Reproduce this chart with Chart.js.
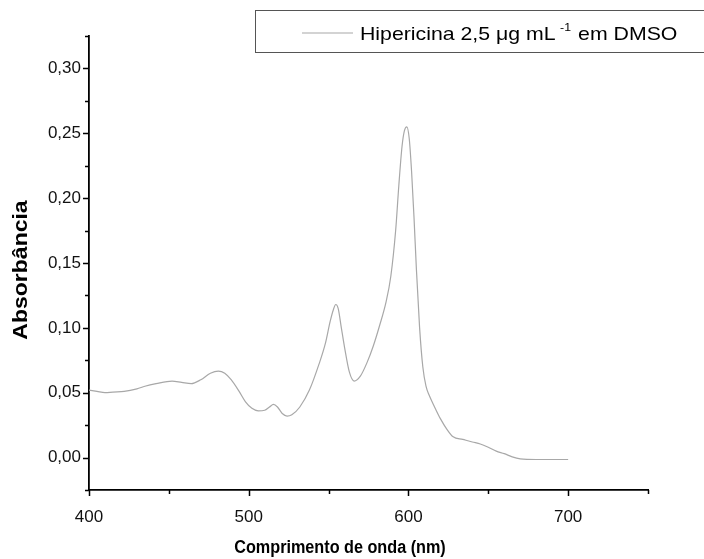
<!DOCTYPE html>
<html>
<head>
<meta charset="utf-8">
<script src="https://cdn.jsdelivr.net/npm/chart.js@4/dist/chart.umd.min.js"></script>
<style>
html,body{margin:0;padding:0;background:#fff;}
#wrap{position:relative;width:704px;height:559px;}
</style>
</head>
<body>
<div id="wrap"><canvas id="c" width="704" height="559"></canvas></div>
<script>
const wavelengths = [400, 405, 410, 415, 422, 430, 435, 442, 452, 458, 464, 470, 476, 481, 485, 489, 494, 498, 502, 506, 510, 513, 515.5, 518, 521, 524, 527, 532, 538, 544, 548, 551, 553, 554.5, 556, 558, 560, 563, 566, 570, 574, 578, 582, 586, 589, 592, 594, 596, 597.5, 599, 600.5, 602, 603.5, 605, 607, 609, 611, 613, 616, 620, 624, 628, 634, 640, 645, 650, 655, 660, 665, 670, 680, 690, 700];
const absorbance = [0.052, 0.051, 0.050, 0.0505, 0.051, 0.053, 0.055, 0.057, 0.059, 0.058, 0.057, 0.060, 0.065, 0.0667, 0.065, 0.060, 0.051, 0.043, 0.038, 0.036, 0.0365, 0.039, 0.041, 0.039, 0.034, 0.032, 0.033, 0.039, 0.052, 0.072, 0.088, 0.105, 0.114, 0.118, 0.115, 0.100, 0.085, 0.066, 0.059, 0.063, 0.073, 0.086, 0.102, 0.120, 0.140, 0.175, 0.210, 0.240, 0.252, 0.255, 0.246, 0.220, 0.185, 0.145, 0.100, 0.070, 0.055, 0.048, 0.040, 0.030, 0.022, 0.016, 0.014, 0.012, 0.0105, 0.008, 0.005, 0.003, 0.0005, -0.001, -0.0015, -0.0015, -0.0015];
const xMajorTicks = [400, 500, 600, 700];
const yMajorTicks = [0.00, 0.05, 0.10, 0.15, 0.20, 0.25, 0.30];
const seriesLabel = ["Hipericina 2,5 \u03BCg mL", "-1", " em DMSO"];
const xTitle = "Comprimento de onda (nm)";
const yTitle = "Absorb\u00E2ncia";

const FONT = "'Liberation Sans', Arial, sans-serif";

const points = wavelengths.map((w, i) => ({x: w, y: absorbance[i]}));

const decorPlugin = {
  id: 'decor',
  afterDraw(chart) {
    const ctx = chart.ctx;
    ctx.save();
    // tick marks (major longer than minor)
    ctx.strokeStyle = '#000';
    ctx.lineWidth = 1.5;
    const xs = chart.scales.x, ys = chart.scales.y;
    const ca = chart.chartArea;
    ctx.beginPath();
    xs.ticks.forEach(t => {
      const p = Math.round(xs.getPixelForValue(t.value)) + 0.5;
      const len = xMajorTicks.includes(t.value) ? 6 : 4;
      ctx.moveTo(p, ca.bottom);
      ctx.lineTo(p, ca.bottom + len);
    });
    ys.ticks.forEach(t => {
      const p = Math.round(ys.getPixelForValue(t.value)) + 0.5;
      const major = yMajorTicks.some(m => Math.abs(m - t.value) < 1e-6);
      const len = major ? 6 : 4;
      ctx.moveTo(ca.left, p);
      ctx.lineTo(ca.left - len, p);
    });
    ctx.stroke();

    // axis titles
    ctx.fillStyle = '#000';
    ctx.textAlign = 'center';
    ctx.textBaseline = 'middle';
    ctx.save();
    ctx.translate(340, 548);
    ctx.scale(0.9, 1);
    ctx.font = "bold 18px " + FONT;
    ctx.fillText(xTitle, 0, 0);
    ctx.restore();
    ctx.save();
    ctx.translate(21, 270);
    ctx.rotate(-Math.PI / 2);
    ctx.scale(1.15, 1);
    ctx.font = "bold 20px " + FONT;
    ctx.fillText(yTitle, 0, 0);
    ctx.restore();

    // legend box
    ctx.strokeStyle = '#555';
    ctx.lineWidth = 1;
    ctx.fillStyle = '#fff';
    ctx.fillRect(255.5, 10.5, 460, 42);
    ctx.strokeRect(255.5, 10.5, 460, 42);
    ctx.strokeStyle = '#a8a8a8';
    ctx.lineWidth = 1.2;
    ctx.beginPath();
    ctx.moveTo(302, 33);
    ctx.lineTo(353, 33);
    ctx.stroke();
    ctx.fillStyle = '#000';
    ctx.textAlign = 'left';
    ctx.textBaseline = 'alphabetic';
    ctx.save();
    ctx.translate(360, 40);
    ctx.scale(1.12, 1);
    let x = 0;
    ctx.font = "19px " + FONT;
    ctx.fillText(seriesLabel[0], x, 0);
    x += ctx.measureText(seriesLabel[0]).width + 4;
    ctx.font = "11px " + FONT;
    ctx.fillText(seriesLabel[1], x, -9);
    x += ctx.measureText(seriesLabel[1]).width + 1;
    ctx.font = "19px " + FONT;
    ctx.fillText(seriesLabel[2], x, 0);
    ctx.restore();
    ctx.restore();
  }
};

new Chart(document.getElementById('c'), {
  type: 'line',
  data: {
    datasets: [{
      label: seriesLabel.join(''),
      data: points,
      borderColor: '#a8a8a8',
      borderWidth: 1.2,
      pointRadius: 0,
      fill: false,
      cubicInterpolationMode: 'monotone'
    }]
  },
  options: {
    responsive: false,
    animation: false,
    devicePixelRatio: 1,
    layout: {padding: {top: 36, right: 56, left: 0, bottom: 0}},
    plugins: {legend: {display: false}, tooltip: {enabled: false}},
    scales: {
      x: {
        type: 'linear',
        min: 400, max: 750,
        ticks: {
          stepSize: 50,
          autoSkip: false,
          maxRotation: 0,
          padding: 17,
          color: '#111',
          font: {family: FONT, size: 17},
          callback: (v) => xMajorTicks.includes(v) ? String(v) : ''
        },
        grid: {drawOnChartArea: false, drawTicks: false},
        border: {display: true, color: '#000', width: 1.8},
        afterFit: (s) => { s.height = 69; }
      },
      y: {
        type: 'linear',
        min: -0.025, max: 0.325,
        ticks: {
          stepSize: 0.025,
          autoSkip: false,
          padding: 8,
          color: '#111',
          font: {family: FONT, size: 17},
          callback: (v) => {
            const m = yMajorTicks.find(t => Math.abs(t - v) < 1e-6);
            return m === undefined ? '' : m.toFixed(2).replace('.', ',');
          }
        },
        grid: {drawOnChartArea: false, drawTicks: false},
        border: {display: true, color: '#000', width: 1.8},
        afterFit: (s) => { s.width = 89; }
      }
    }
  },
  plugins: [decorPlugin]
});
</script>
</body>
</html>
